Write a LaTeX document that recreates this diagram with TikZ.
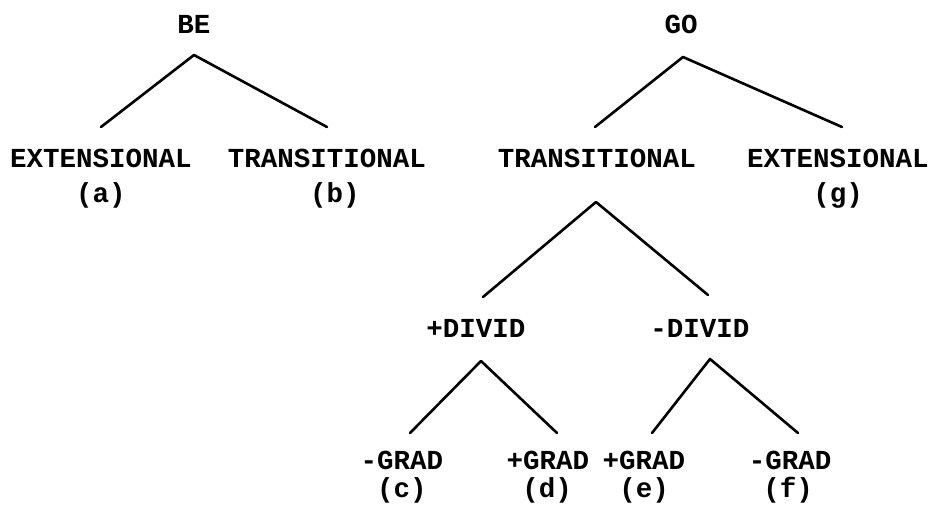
\documentclass[tikz,border=0pt]{standalone}
\usepackage{fontspec}
\setmainfont{Liberation Mono}
\begin{document}
\begin{tikzpicture}[x=1pt,y=-1pt,
  lbl/.style={inner sep=0pt,anchor=base,font=\fontsize{27.5}{30}\selectfont\bfseries},
  edge/.style={line width=2.6pt,line cap=round,line join=round}]
\useasboundingbox (0,0) rectangle (935,504);
% BE tree
\node[lbl] (be) at (194,33) {BE};
\node[lbl] (ext1) at (101,167) {EXTENSIONAL};
\node[lbl] (ext1l) at (101,202) {(a)};
\node[lbl] (tr1) at (327,167) {TRANSITIONAL};
\node[lbl] (tr1l) at (335,202) {(b)};
\coordinate (beA) at (194,55);
\coordinate (beL) at (101,127);
\coordinate (beR) at (327,127);
\draw[edge] (beL) -- (beA) -- (beR);
% GO tree
\node[lbl] (go) at (681,33) {GO};
\node[lbl] (tr2) at (597,167) {TRANSITIONAL};
\node[lbl] (ext2) at (838,167) {EXTENSIONAL};
\node[lbl] (ext2l) at (838,202) {(g)};
\coordinate (goA) at (683,57);
\coordinate (goL) at (595,127);
\coordinate (goR) at (842,127);
\draw[edge] (goL) -- (goA) -- (goR);
% TRANSITIONAL split
\node[lbl] (pdiv) at (476,337) {+DIVID};
\node[lbl] (mdiv) at (700,337) {-DIVID};
\coordinate (trA) at (596,202);
\coordinate (trL) at (483,297);
\coordinate (trR) at (708,295);
\draw[edge] (trL) -- (trA) -- (trR);
% +DIVID split
\node[lbl] (g1) at (402,469) {-GRAD};
\node[lbl] (g1l) at (402,497) {(c)};
\node[lbl] (g2) at (548,469) {+GRAD};
\node[lbl] (g2l) at (547,497) {(d)};
\coordinate (pdA) at (481,361);
\coordinate (pdL) at (410,433);
\coordinate (pdR) at (557,433);
\draw[edge] (pdL) -- (pdA) -- (pdR);
% -DIVID split
\node[lbl] (g3) at (644,469) {+GRAD};
\node[lbl] (g3l) at (644,497) {(e)};
\node[lbl] (g4) at (790,469) {-GRAD};
\node[lbl] (g4l) at (788,497) {(f)};
\coordinate (mdA) at (710,359);
\coordinate (mdL) at (652,433);
\coordinate (mdR) at (798,433);
\draw[edge] (mdL) -- (mdA) -- (mdR);
\end{tikzpicture}
\end{document}
